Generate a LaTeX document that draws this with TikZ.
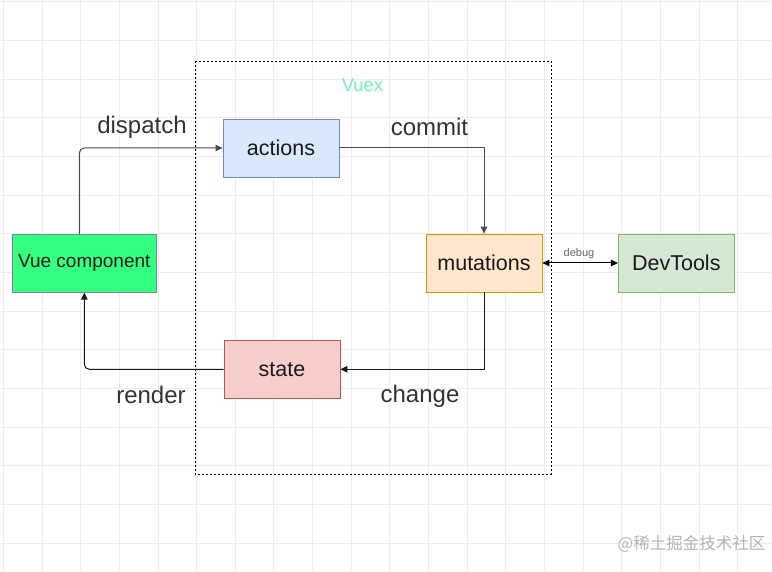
\documentclass[tikz,border=0pt]{standalone}
\usepackage{fontspec}
\setmainfont{Liberation Sans}
\newfontfamily\cjkfont{Noto Sans CJK SC}
\usetikzlibrary{arrows.meta}

\definecolor{gridgray}{HTML}{EDEDED}
\definecolor{labelgray}{HTML}{333333}
\definecolor{vuexmint}{HTML}{6EF5B4}
\definecolor{vuefill}{HTML}{33FF80}
\definecolor{vueline}{HTML}{708F9A}
\definecolor{actfill}{HTML}{DAE8FC}
\definecolor{actline}{HTML}{6C8EBF}
\definecolor{mutfill}{HTML}{FFE6CC}
\definecolor{mutline}{HTML}{D79B00}
\definecolor{devfill}{HTML}{D5E8D4}
\definecolor{devline}{HTML}{82B366}
\definecolor{stafill}{HTML}{F8CECC}
\definecolor{staline}{HTML}{B85450}
\definecolor{markgray}{HTML}{B4B4B4}

\begin{document}
\begin{tikzpicture}[x=1pt,y=-1pt,
  box/.style={draw,minimum width=116pt,minimum height=58pt,inner sep=0pt,line width=0.8pt,text=black!90,font=\fontsize{21.5}{25}\selectfont},
  lbl/.style={text=labelgray,font=\fontsize{24}{28}\selectfont},
  flow/.style={-{Triangle[length=7pt,width=6.5pt]},line width=1pt}]
\useasboundingbox (0,0) rectangle (772,572);
\fill[white] (0,0) rectangle (772,572);
% grid
\foreach \k in {0,...,19}
  \draw[gridgray,line width=0.8pt] (3.3+38.65*\k,0) -- (3.3+38.65*\k,572);
\foreach \k in {0,...,14}
  \draw[gridgray,line width=0.8pt] (0,1.9+38.65*\k) -- (772,1.9+38.65*\k);
% Vuex frame
\draw[dashed,dash pattern=on 2pt off 2pt,line width=0.8pt] (195,61) rectangle (551,474);
\node[text=vuexmint,font=\fontsize{18.5}{22}\selectfont] (vuex) at (362.5,85) {Vuex};
% boxes
\node[box,fill=vuefill,draw=vueline,minimum width=144.7pt,font=\fontsize{19}{23}\selectfont] (vue) at (84.3,263.2) {Vue component};
\node[box,fill=actfill,draw=actline] (actions) at (281,148) {actions};
\node[box,fill=mutfill,draw=mutline] (mutations) at (484,263) {mutations};
\node[box,fill=devfill,draw=devline] (devtools) at (676.3,263) {DevTools};
\node[box,fill=stafill,draw=staline] (state) at (282,369.3) {state};
% arrows
\draw[flow,black!70,rounded corners=5pt] ([xshift=-5pt]vue.north) |- (actions.west);
\draw[flow,black!70] (actions.east) -| (mutations.north);
\draw[flow,black!90] (mutations.south) |- (state.east);
\draw[flow,black!90,rounded corners=5pt] (state.west) -| (vue.south);
\draw[{Triangle[length=7pt,width=6.5pt]}-{Triangle[length=7pt,width=6.5pt]},line width=1pt] (mutations.east) -- (devtools.west);
% labels
\node[lbl] (dispatch) at (142,127) {dispatch};
\node[lbl] (commit) at (429.5,127) {commit};
\node[lbl] (render) at (151,395) {render};
\node[lbl] (change) at (420,396.5) {change};
\node[text=black!60,font=\fontsize{11}{13}\selectfont] (debug) at (579,254) {debug};
\node[text=markgray,font=\cjkfont\fontsize{16.5}{20}\selectfont] (mark) at (691.5,544) {@稀土掘金技术社区};
\end{tikzpicture}
\end{document}
